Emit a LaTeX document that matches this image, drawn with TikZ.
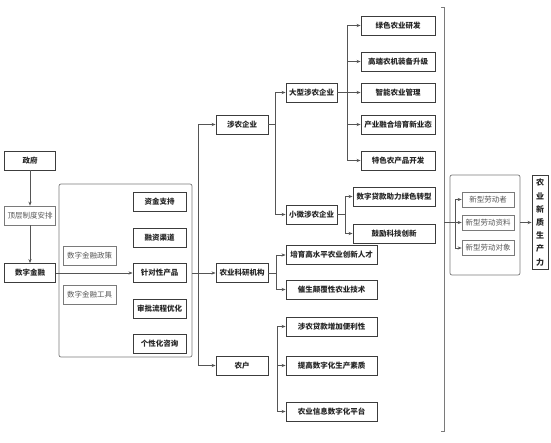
\documentclass[tikz,border=0pt]{standalone}
\usepackage{fontspec}
\newfontfamily\cjk{Noto Sans CJK SC}
\usetikzlibrary{arrows.meta}
\definecolor{boxc}{HTML}{3C3C3C}
\definecolor{linec}{HTML}{555555}
\definecolor{lightc}{HTML}{7A7A7A}
\begin{document}
\begin{tikzpicture}[x=1pt,y=-1pt,
    box/.style={draw=boxc,line width=0.9pt,fill=white,text=black!85,inner sep=0pt,
        minimum height=19pt,font=\cjk\bfseries\fontsize{7.5}{9}\selectfont},
    lbox/.style={box,draw=lightc,line width=0.7pt,text=black!65,
        font=\cjk\fontsize{7.5}{9}\selectfont},
    frame/.style={draw=lightc,line width=0.7pt,rounded corners=2pt,inner sep=0pt},
    link/.style={draw=linec,line width=0.7pt},
    arr/.style={link,-{Stealth[length=4pt,width=3.2pt]}}]
    \useasboundingbox (0,0) rectangle (551,443);
    % left column
    \node[box,minimum width=51pt] (gov) at (30,160.5) {政府};
    \node[lbox,minimum width=51pt] (top) at (30,215.5) {顶层制度安排};
    \node[box,minimum width=51pt] (df) at (30,273) {数字金融};
    \draw[arr] (gov) -- (top);
    \draw[arr] (top) -- (df);
    % digital finance group
    \node[frame,minimum width=133pt,minimum height=173pt] (fin) at (125.5,270.5) {};
    \node[lbox,minimum width=53pt] (pol) at (89.5,255.5) {数字金融政策};
    \node[lbox,minimum width=53pt] (tool) at (89.5,294.5) {数字金融工具};
    \foreach \t [count=\i] in {资金支持,融资渠道,针对性产品,审批流程优化,个性化咨询}{
        \node[box,minimum width=53pt] (m\i) at (159.5,{202+(\i-1)*35.5}) {\t};
    }
    \draw[arr] (df.east) -- (m3.west);
    % actors
    \node[box,minimum width=52pt] (ent) at (242,124.5) {涉农企业};
    \node[box,minimum width=52pt] (res) at (242,273) {农业科研机构};
    \node[box,minimum width=52pt] (farm) at (242,365.5) {农户};
    \coordinate (tr) at (198,0);
    \draw[arr] (fin.east |- res) -- (res.west);
    \draw[link] (tr |- ent) -- (tr |- farm);
    \draw[arr] (tr |- ent) -- (ent.west);
    \draw[arr] (tr |- farm) -- (farm.west);
    % enterprises
    \node[box,minimum width=51pt] (big) at (311.5,92.5) {大型涉农企业};
    \node[box,minimum width=51pt] (small) at (311.5,214.5) {小微涉农企业};
    \coordinate (b0) at (275,0);
    \draw[link] (ent.east) -- (b0 |- ent);
    \draw[link] (b0 |- big) -- (b0 |- small);
    \draw[arr] (b0 |- big) -- (big.west);
    \draw[arr] (b0 |- small) -- (small.west);
    \coordinate (b1) at (347,0);
    \foreach \t/\y [count=\i] in {绿色农业研发/25.5,高端农机装备升级/61.5,智能农业管理/92.5,
        产业融合培育新业态/124.5,特色农产品开发/160.5}{
        \node[box,minimum width=74pt] (g\i) at (398,\y) {\t};
        \draw[arr] (b1 |- g\i) -- (g\i.west);
    }
    \draw[link] (big.east) -- (b1 |- big);
    \draw[link] (b1 |- g1) -- (b1 |- g5);
    \coordinate (b2) at (345,0);
    \node[box,minimum width=82pt] (s1) at (394,196.5) {数字贷款助力绿色转型};
    \node[box,minimum width=82pt] (s2) at (394,233.5) {鼓励科技创新};
    \draw[link] (small.east) -- (b2 |- small);
    \draw[link] (b2 |- s1) -- (b2 |- s2);
    \draw[arr] (b2 |- s1) -- (s1.west);
    \draw[arr] (b2 |- s2) -- (s2.west);
    % research institutions
    \coordinate (b3) at (276,0);
    \node[box,minimum width=91pt] (r1) at (331.5,255) {培育高水平农业创新人才};
    \node[box,minimum width=91pt] (r2) at (331.5,289.5) {催生颠覆性农业技术};
    \draw[link] (res.east) -- (b3 |- res);
    \draw[link] (b3 |- r1) -- (b3 |- r2);
    \draw[arr] (b3 |- r1) -- (r1.west);
    \draw[arr] (b3 |- r2) -- (r2.west);
    % farmers
    \coordinate (b4) at (277,0);
    \foreach \t/\y [count=\i] in {涉农贷款增加便利性/326.5,提高数字化生产素质/365.5,农业信息数字化平台/411.5}{
        \node[box,minimum width=91pt] (f\i) at (331.5,\y) {\t};
        \draw[arr] (b4 |- f\i) -- (f\i.west);
    }
    \draw[link] (b4 |- f1) -- (b4 |- f3);
    % bracket
    \coordinate (kt) at (444,7);
    \coordinate (kb) at (444,431);
    \draw[draw=lightc,line width=0.9pt] ([xshift=-3pt]kt) -- (kt) -- (kb) -- ([xshift=-3pt]kb);
    % new productive forces
    \node[frame,minimum width=70pt,minimum height=100pt] (nq) at (485,225) {};
    \node[lbox,minimum width=52pt,minimum height=15pt] (n1) at (488,199.5) {新型劳动者};
    \node[lbox,minimum width=52pt,minimum height=15pt] (n2) at (488,222.5) {新型劳动资料};
    \node[lbox,minimum width=52pt,minimum height=15pt] (n3) at (488,248) {新型劳动对象};
    \coordinate (b5) at (455,0);
    \draw[link] (kt |- n2) -- (b5 |- n2);
    \draw[link] (b5 |- n1) -- (b5 |- n3);
    \foreach \i in {1,2,3}{
        \draw[arr] (b5 |- n\i) -- (n\i.west);
    }
    \node[box,minimum width=16pt,minimum height=94pt,align=center,
        font=\cjk\bfseries\fontsize{8}{13.2}\selectfont] (out) at (540,222.5) {农\\业\\新\\质\\生\\产\\力};
    \draw[arr] (nq.east |- n2) -- (out.west);
\end{tikzpicture}
\end{document}
